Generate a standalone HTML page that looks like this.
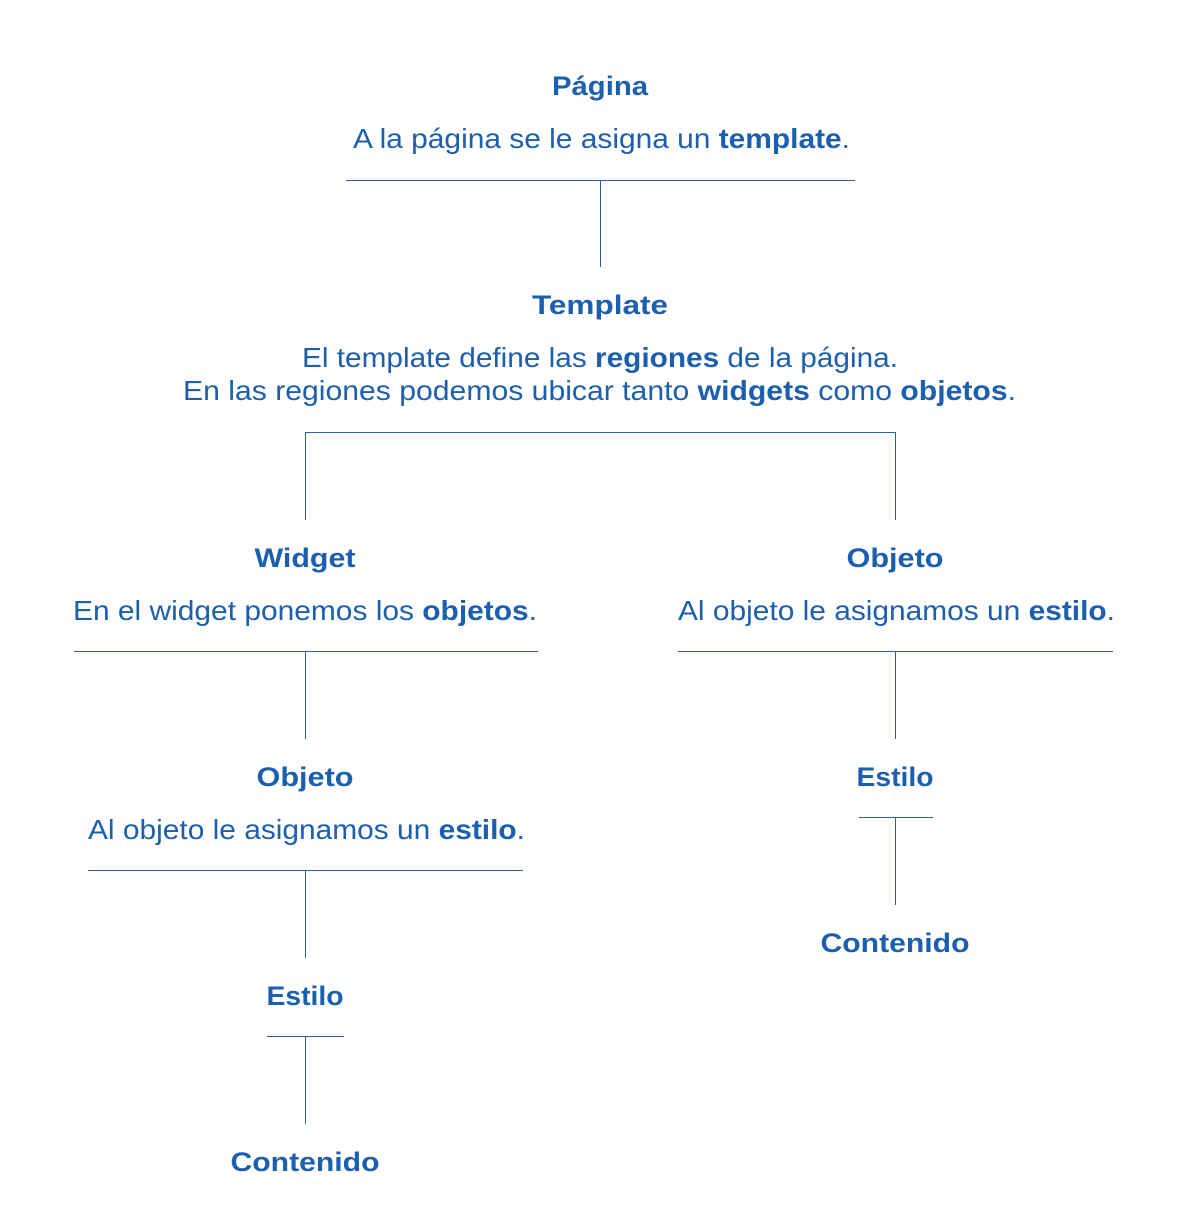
<!DOCTYPE html>
<html><head><meta charset="utf-8"><style>
html,body{margin:0;padding:0;background:#fff;}
svg{display:block;}
text{font-family:"Liberation Sans",sans-serif;fill:#1b5fae;}
.t{font-weight:bold;font-size:27px;}
.b{font-size:28px;}
.b tspan.k{font-weight:bold;}
</style></head><body>
<svg width="1200" height="1231" viewBox="0 0 1200 1231">
<g stroke="#2d5fa6" stroke-width="1" fill="none" shape-rendering="crispEdges">
<line x1="346" y1="180.5" x2="855" y2="180.5"/>
<line x1="600.5" y1="180" x2="600.5" y2="267"/>
<line x1="305" y1="432.5" x2="896" y2="432.5"/>
<line x1="305.5" y1="432" x2="305.5" y2="520"/>
<line x1="895.5" y1="432" x2="895.5" y2="520"/>
<line x1="74" y1="651.5" x2="538" y2="651.5"/>
<line x1="305.5" y1="651" x2="305.5" y2="739"/>
<line x1="678" y1="651.5" x2="1113" y2="651.5"/>
<line x1="895.5" y1="651" x2="895.5" y2="739"/>
<line x1="88" y1="870.5" x2="523" y2="870.5"/>
<line x1="305.5" y1="870" x2="305.5" y2="958"/>
<line x1="859" y1="817.5" x2="933" y2="817.5"/>
<line x1="895.5" y1="817" x2="895.5" y2="905"/>
<line x1="267" y1="1036.5" x2="344" y2="1036.5"/>
<line x1="305.5" y1="1036" x2="305.5" y2="1124"/>
</g>
<text class="t" x="600" y="95" text-anchor="middle" textLength="96" lengthAdjust="spacingAndGlyphs">Página</text>
<text class="b" x="353" y="148" textLength="497" lengthAdjust="spacingAndGlyphs">A la página se le asigna un <tspan class="k">template</tspan>.</text>

<text class="t" x="600" y="314" text-anchor="middle" textLength="136" lengthAdjust="spacingAndGlyphs">Template</text>
<text class="b" x="302" y="367" textLength="596" lengthAdjust="spacingAndGlyphs">El template define las <tspan class="k">regiones</tspan> de la página.</text>
<text class="b" x="183" y="400" textLength="833" lengthAdjust="spacingAndGlyphs">En las regiones podemos ubicar tanto <tspan class="k">widgets</tspan> como <tspan class="k">objetos</tspan>.</text>

<text class="t" x="305" y="567" text-anchor="middle" textLength="101" lengthAdjust="spacingAndGlyphs">Widget</text>
<text class="b" x="73" y="620" textLength="464" lengthAdjust="spacingAndGlyphs">En el widget ponemos los <tspan class="k">objetos</tspan>.</text>

<text class="t" x="895" y="567" text-anchor="middle" textLength="97" lengthAdjust="spacingAndGlyphs">Objeto</text>
<text class="b" x="678" y="620" textLength="437" lengthAdjust="spacingAndGlyphs">Al objeto le asignamos un <tspan class="k">estilo</tspan>.</text>

<text class="t" x="305" y="786" text-anchor="middle" textLength="97" lengthAdjust="spacingAndGlyphs">Objeto</text>
<text class="b" x="88" y="839" textLength="437" lengthAdjust="spacingAndGlyphs">Al objeto le asignamos un <tspan class="k">estilo</tspan>.</text>

<text class="t" x="895" y="786" text-anchor="middle" textLength="77" lengthAdjust="spacingAndGlyphs">Estilo</text>
<text class="t" x="895" y="952" text-anchor="middle" textLength="149" lengthAdjust="spacingAndGlyphs">Contenido</text>

<text class="t" x="305" y="1005" text-anchor="middle" textLength="77" lengthAdjust="spacingAndGlyphs">Estilo</text>
<text class="t" x="305" y="1171" text-anchor="middle" textLength="149" lengthAdjust="spacingAndGlyphs">Contenido</text>
</svg>
</body></html>
